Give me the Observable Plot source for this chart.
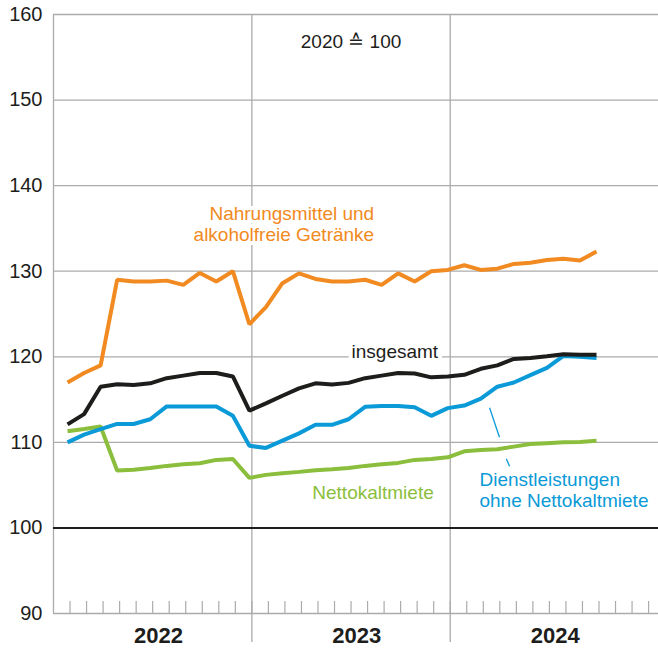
<!DOCTYPE html>
<html>
<head>
<meta charset="utf-8">
<script src="https://cdn.jsdelivr.net/npm/d3@7"></script>
<script src="https://cdn.jsdelivr.net/npm/@observablehq/plot@0.6"></script>
<style>
  html, body { margin: 0; padding: 0; background: #fff; }
  svg { display: block; font-family: "Liberation Sans", Arial, sans-serif; }
</style>
</head>
<body>
<div id="chart"></div>
<script>
// Months Jan 2022 .. Sep 2024
const months = d3.range(33).map(i => `${2022 + Math.floor(i / 12)}-${String(i % 12 + 1).padStart(2, "0")}`);

const nahrung = [117.0, 118.1, 119.0, 129.0, 128.8, 128.8, 128.9, 128.4, 129.8, 128.8, 130.0, 123.8,
                 125.8, 128.6, 129.75, 129.1, 128.8, 128.8, 129.0, 128.4, 129.75, 128.8, 130.0, 130.15,
                 130.7, 130.15, 130.3, 130.85, 131.0, 131.3, 131.45, 131.25, 132.3];
const insgesamt = [112.1, 113.3, 116.5, 116.8, 116.7, 116.9, 117.5, 117.8, 118.1, 118.1, 117.7, 113.7,
                   114.55, 115.45, 116.3, 116.9, 116.75, 116.95, 117.5, 117.8, 118.1, 118.05, 117.6, 117.7,
                   117.9, 118.6, 119.0, 119.75, 119.85, 120.05, 120.3, 120.25, 120.25];
const dienst = [110.0, 110.9, 111.55, 112.15, 112.15, 112.7, 114.2, 114.2, 114.2, 114.2, 113.1, 109.6,
                109.35, 110.2, 111.05, 112.05, 112.05, 112.7, 114.15, 114.25, 114.25, 114.1, 113.1, 114.0,
                114.3, 115.1, 116.5, 117.0, 117.85, 118.7, 120.1, 120.0, 119.85];
const miete = [111.3, 111.55, 111.85, 106.7, 106.8, 107.0, 107.25, 107.45, 107.55, 107.95, 108.05, 105.85,
               106.2, 106.4, 106.55, 106.75, 106.85, 107.0, 107.25, 107.45, 107.6, 107.95, 108.05, 108.25,
               108.95, 109.1, 109.2, 109.5, 109.8, 109.9, 110.0, 110.05, 110.2];

const years = ["2022", "2023", "2024"];
const yTicks = [90, 100, 110, 120, 130, 140, 150, 160];
const gridValues = [110, 120, 130, 140, 150, 160];

const colors = { nahrung: "#F18A21", insgesamt: "#1D1D1B", dienst: "#0A9AD7", miete: "#8BBE3C" };

// month index -> x position on the month axis (points drawn late in each month)
const mx = i => i + 0.85;

const series = [
  { key: "miete", values: miete },
  { key: "dienst", values: dienst },
  { key: "insgesamt", values: insgesamt },
  { key: "nahrung", values: nahrung }
];
const rows = series.flatMap(s => s.values.map((v, i) => ({ key: s.key, month: months[i], x: mx(i), y: v })));

const labels = [
  { text: "Nahrungsmittel und\nalkoholfreie Getränke", x: 19.4, y: 135.55, anchor: "end", color: colors.nahrung },
  { text: "insgesamt", x: 20.65, y: 120.65, anchor: "middle", color: colors.insgesamt },
  { text: "Nettokaltmiete", x: 19.33, y: 104.18, anchor: "middle", color: colors.miete },
  { text: "Dienstleistungen\nohne Nettokaltmiete", x: 25.77, y: 104.41, anchor: "start", color: colors.dienst }
];
const leader = [
  { x1: 26.38, y1: 114.04, x2: 26.98, y2: 110.6 },
  { x1: 27.39, y1: 108.08, x2: 27.59, y2: 107.21 }
];

const labelMark = anchor => Plot.text(labels.filter(d => d.anchor === anchor), {
  x: "x", y: "y", text: "text", textAnchor: anchor, fill: "color",
  fontSize: 19, lineHeight: 1.09, stroke: "white", strokeWidth: 8, strokeLinejoin: "round"
});

const chart = Plot.plot({
  width: 658,
  height: 649,
  marginLeft: 53,
  marginRight: 0,
  marginTop: 14,
  marginBottom: 36,
  x: { domain: [0, 36.6], axis: null },
  y: { domain: [90, 160], axis: null },
  style: { fontFamily: "'Liberation Sans', Arial, sans-serif", background: "#fff" },
  marks: [
    Plot.ruleY(gridValues, { stroke: "#ababab", strokeWidth: 1.3 }),
    Plot.ruleY([90], { stroke: "#ababab", strokeWidth: 1.3 }),
    Plot.ruleX([0], { y1: 90, y2: 160, stroke: "#ababab", strokeWidth: 1.3 }),
    Plot.ruleX(d3.range(1, 37), { y1: 90, y2: 90, insetBottom: 12, stroke: "#ababab", strokeWidth: 1.2 }),
    Plot.ruleX([12, 24], { y1: 90, y2: 160, insetTop: 29, stroke: "#ababab", strokeWidth: 1.3 }),
    Plot.ruleY([100], { stroke: "#1D1D1B", strokeWidth: 2 }),
    Plot.line(rows, { x: "x", y: "y", z: "key", stroke: d => colors[d.key], strokeWidth: 4,
      strokeLinejoin: "miter", strokeLinecap: "butt" }),
    Plot.link(leader, { x1: "x1", y1: "y1", x2: "x2", y2: "y2", stroke: colors.dienst, strokeWidth: 1.3 }),
    labelMark("end"),
    labelMark("middle"),
    labelMark("start"),
    Plot.text(["2020 ≙ 100"], { x: 18, y: 156.8, text: d => d, fontSize: 19, fill: "#1D1D1B" }),
    Plot.text(yTicks, { x: 0, y: d => d, text: d => String(d), textAnchor: "end", dx: -11, fontSize: 20, fill: "#1D1D1B" }),
    Plot.text(years, { x: (d, k) => 12 * k + 5.5 + 0.85, y: 90, dy: 22, text: d => d, fontSize: 22,
      fontWeight: "bold", fill: "#1D1D1B" })
  ]
});

document.getElementById("chart").appendChild(chart);
</script>
</body>
</html>
